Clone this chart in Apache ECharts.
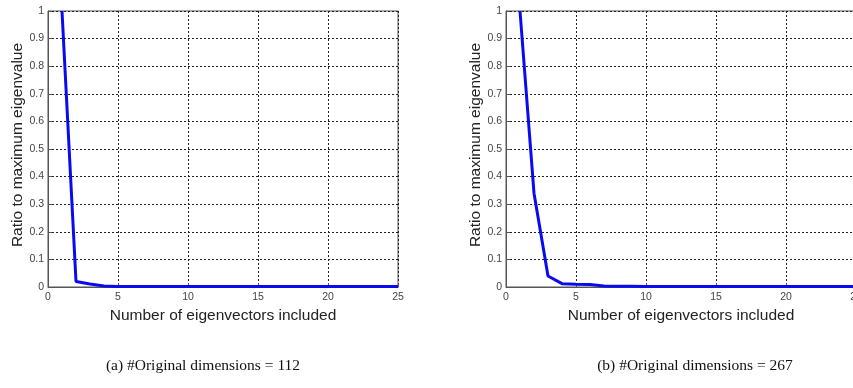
<!DOCTYPE html>
<html>
<head>
<meta charset="utf-8">
<script src="https://cdn.jsdelivr.net/npm/echarts@6/dist/echarts.min.js"></script>
<style>html,body{margin:0;padding:0;background:#fff}#c{width:853px;height:388px}</style>
</head>
<body>
<div id="c"></div>
<script>
var xTicks = [0, 5, 10, 15, 20, 25];
var yTicks = [0, 0.1, 0.2, 0.3, 0.4, 0.5, 0.6, 0.7, 0.8, 0.9, 1];
var eigIndex = [1,2,3,4,5,6,7,8,9,10,11,12,13,14,15,16,17,18,19,20,21,22,23,24,25];
var ratioA = [1, 0.02, 0.011, 0.004, 0.002, 0.002, 0.002, 0.002, 0.002, 0.002, 0.002, 0.002, 0.002, 0.002, 0.002, 0.002, 0.002, 0.002, 0.002, 0.002, 0.002, 0.002, 0.002, 0.002, 0.002];
var ratioB = [1, 0.34, 0.04, 0.012, 0.01, 0.009, 0.004, 0.003, 0.003, 0.002, 0.002, 0.002, 0.002, 0.002, 0.002, 0.002, 0.002, 0.002, 0.002, 0.002, 0.002, 0.002, 0.002, 0.002, 0.002];
var xName = 'Number of eigenvectors included';
var yName = 'Ratio to maximum eigenvalue';
var captions = ['(a) #Original dimensions = 112', '(b) #Original dimensions = 267'];

var chart = echarts.init(document.getElementById('c'), null, {renderer: 'canvas'});
var font = 'Liberation Sans, Arial, sans-serif';
function xAxis(i) {
  return {
    gridIndex: i, type: 'value', min: 0, max: 25, interval: 5,
    name: xName, nameLocation: 'middle', nameGap: 20,
    nameTextStyle: {fontFamily: font, fontSize: 15.5, color: '#222'},
    axisLine: {show: true, onZero: false, lineStyle: {color: '#555', width: 1}},
    axisTick: {show: true, inside: true, length: 4, lineStyle: {color: '#555'}},
    axisLabel: {fontFamily: font, fontSize: 10.5, color: '#444', margin: 5,
      formatter: function (v) { return xTicks.indexOf(v) >= 0 ? String(v) : ''; }},
    splitLine: {show: true, lineStyle: {color: '#222', type: [2, 2], width: 1}}
  };
}
function yAxis(i) {
  return {
    gridIndex: i, type: 'value', min: 0, max: 1, interval: 0.1,
    name: yName, nameLocation: 'middle', nameGap: 18,
    nameTextStyle: {fontFamily: font, fontSize: 15.5, color: '#222', padding: [0, 0, 0, 8]},
    axisLine: {show: true, lineStyle: {color: '#555', width: 1}},
    axisTick: {show: true, inside: true, length: 4, lineStyle: {color: '#555'}},
    axisLabel: {fontFamily: font, fontSize: 10.5, color: '#444', margin: 4,
      formatter: function (v) { var s = Math.round(v * 10) / 10; return String(s); }},
    splitLine: {show: true, lineStyle: {color: '#222', type: [2, 2], width: 1}}
  };
}
function pairs(ys) { return eigIndex.map(function (x, k) { return [x, ys[k]]; }); }
chart.setOption({
  animation: false,
  backgroundColor: '#fff',
  grid: [
    {left: 48, top: 11, width: 350, height: 276, show: true, borderColor: '#555', borderWidth: 1, containLabel: false, outerBoundsMode: 'none'},
    {left: 506, top: 11, width: 350, height: 276, show: true, borderColor: '#555', borderWidth: 1, containLabel: false, outerBoundsMode: 'none'}
  ],
  xAxis: [xAxis(0), xAxis(1)],
  yAxis: [yAxis(0), yAxis(1)],
  series: [
    {type: 'line', xAxisIndex: 0, yAxisIndex: 0, data: pairs(ratioA), showSymbol: false, lineStyle: {color: '#0a0af0', width: 3}, clip: true},
    {type: 'line', xAxisIndex: 1, yAxisIndex: 1, data: pairs(ratioB), showSymbol: false, lineStyle: {color: '#0a0af0', width: 3}, clip: true}
  ],
  graphic: [
    {type: 'text', x: 203, y: 366, style: {text: captions[0], font: '15.5px "Liberation Serif", "Times New Roman", serif', fill: '#111', textAlign: 'center', textVerticalAlign: 'middle'}},
    {type: 'text', x: 695, y: 366, style: {text: captions[1], font: '15.5px "Liberation Serif", "Times New Roman", serif', fill: '#111', textAlign: 'center', textVerticalAlign: 'middle'}}
  ]
});
</script>
</body>
</html>
